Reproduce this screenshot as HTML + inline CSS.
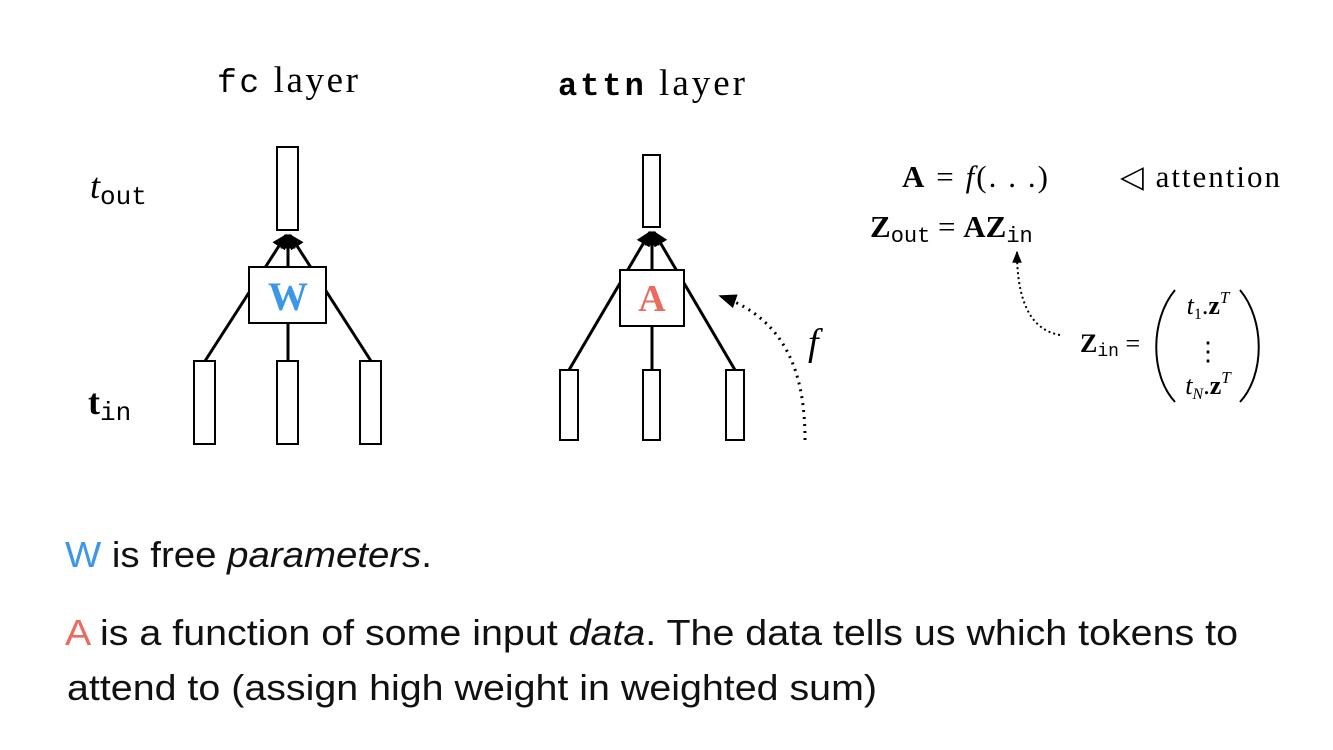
<!DOCTYPE html>
<html><head><meta charset="utf-8"><style>
body{margin:0;background:#fff;width:1333px;height:750px;overflow:hidden}
svg{position:absolute;left:0;top:0}
.serif{font-family:"Liberation Serif",serif}
.mono{font-family:"Liberation Mono",monospace}
.sans{font-family:"Liberation Sans",sans-serif}
</style></head><body>
<svg width="1333" height="750" viewBox="0 0 1333 750">
<defs>
<marker id="ah" viewBox="0 0 10 10" refX="9" refY="5" markerWidth="5" markerHeight="5" orient="auto"><path d="M0,0L10,5L0,10z" fill="#000"/></marker>
<marker id="ah2" viewBox="0 0 10 10" refX="9" refY="5" markerWidth="6" markerHeight="6" orient="auto"><path d="M0,1L10,5L0,9z" fill="#000"/></marker>
</defs>
<g stroke="#000" stroke-width="2" fill="#fff">
<text x="217" y="92" stroke="none" fill="#000" font-size="37" class="serif" textLength="141"><tspan class="mono" font-size="33">fc</tspan> layer</text>
<line x1="205" y1="361" x2="286" y2="235" stroke-width="3" marker-end="url(#ah)"/>
<line x1="288" y1="361" x2="288" y2="235" stroke-width="3" marker-end="url(#ah)"/>
<line x1="371" y1="361" x2="290" y2="235" stroke-width="3" marker-end="url(#ah)"/>
<rect x="277" y="147" width="21" height="83"/>
<rect x="249" y="267" width="77" height="56"/>
<text x="288" y="310" text-anchor="middle" stroke="none" fill="#3d97e8" font-size="40" font-weight="bold" class="serif">W</text>
<rect x="194" y="361" width="21" height="83"/>
<rect x="277" y="361" width="21" height="83"/>
<rect x="360" y="361" width="21" height="83"/>
</g>
<text x="90" y="198" font-size="36" class="serif" font-style="italic">t<tspan class="mono" font-style="normal" font-size="26" dy="6">out</tspan></text>
<text x="88" y="414" font-size="36" class="serif" font-weight="bold">t<tspan class="mono" font-weight="normal" font-size="26" dy="6">in</tspan></text>
<g stroke="#000" stroke-width="2" fill="#fff">
<text x="558" y="95" stroke="none" fill="#000" font-size="37" class="serif" textLength="187"><tspan class="mono" font-size="32" font-weight="bold">attn</tspan> layer</text>
<line x1="569" y1="370" x2="650" y2="232" stroke-width="3" marker-end="url(#ah)"/>
<line x1="652" y1="370" x2="652" y2="232" stroke-width="3" marker-end="url(#ah)"/>
<line x1="735" y1="370" x2="654" y2="232" stroke-width="3" marker-end="url(#ah)"/>
<rect x="643" y="155" width="17" height="72"/>
<rect x="620" y="270" width="64" height="56"/>
<text x="652" y="311" text-anchor="middle" stroke="none" fill="#ec6a5e" font-size="38" font-weight="bold" class="serif">A</text>
<rect x="560" y="370" width="18" height="70"/>
<rect x="643" y="370" width="17" height="70"/>
<rect x="726" y="370" width="18" height="70"/>
<path d="M805,440 C805,380 790,320 720,296" fill="none" stroke-width="3" stroke-dasharray="2,5" marker-end="url(#ah2)"/>
</g>
<text x="808" y="355" font-size="38" class="serif" font-style="italic">f</text>
<g class="serif" font-size="31">
<text x="902" y="187" textLength="146"><tspan font-weight="bold">A</tspan> = <tspan font-style="italic">f</tspan>(. . .)</text>
<text x="1120" y="187" textLength="160">◁ attention</text>
<text x="870" y="237"><tspan font-weight="bold">Z</tspan><tspan class="mono" font-size="22" dy="5">out</tspan><tspan dy="-5"> = </tspan><tspan font-weight="bold">AZ</tspan><tspan class="mono" font-size="22" dy="5">in</tspan></text>
<text x="1080" y="352" font-size="26"><tspan font-weight="bold">Z</tspan><tspan class="mono" font-size="18" dy="4">in</tspan><tspan dy="-4"> =</tspan></text>
<path d="M1175,290 C1150,320 1150,375 1175,402" fill="none" stroke="#000" stroke-width="2"/>
<path d="M1240,290 C1265,320 1265,375 1240,402" fill="none" stroke="#000" stroke-width="2"/>
<text x="1208" y="314" font-size="26" text-anchor="middle"><tspan font-style="italic">t</tspan><tspan font-size="16" dy="5">1</tspan><tspan dy="-5">.</tspan><tspan font-weight="bold">z</tspan><tspan font-size="17" font-style="italic" dy="-11">T</tspan></text>
<text x="1208" y="360" font-size="26" text-anchor="middle">⋮</text>
<text x="1208" y="394" font-size="26" text-anchor="middle"><tspan font-style="italic">t</tspan><tspan font-size="16" font-style="italic" dy="5">N</tspan><tspan dy="-5">.</tspan><tspan font-weight="bold">z</tspan><tspan font-size="17" font-style="italic" dy="-11">T</tspan></text>
<path d="M1060,335 C1030,330 1017,300 1017,252" fill="none" stroke="#000" stroke-width="2" stroke-dasharray="2,3" marker-end="url(#ah2)"/>
</g>
<g class="sans" font-size="36" fill="#111">
<text x="65" y="567" textLength="367" lengthAdjust="spacingAndGlyphs"><tspan fill="#3d97e8">W</tspan> is free <tspan font-style="italic">parameters</tspan>.</text>
<text x="65" y="645" textLength="1173" lengthAdjust="spacingAndGlyphs"><tspan fill="#ec6a5e">A</tspan> is a function of some input <tspan font-style="italic">data</tspan>. The data tells us which tokens to</text>
<text x="67" y="700" textLength="810" lengthAdjust="spacingAndGlyphs">attend to (assign high weight in weighted sum)</text>
</g>
</svg>
</body></html>
